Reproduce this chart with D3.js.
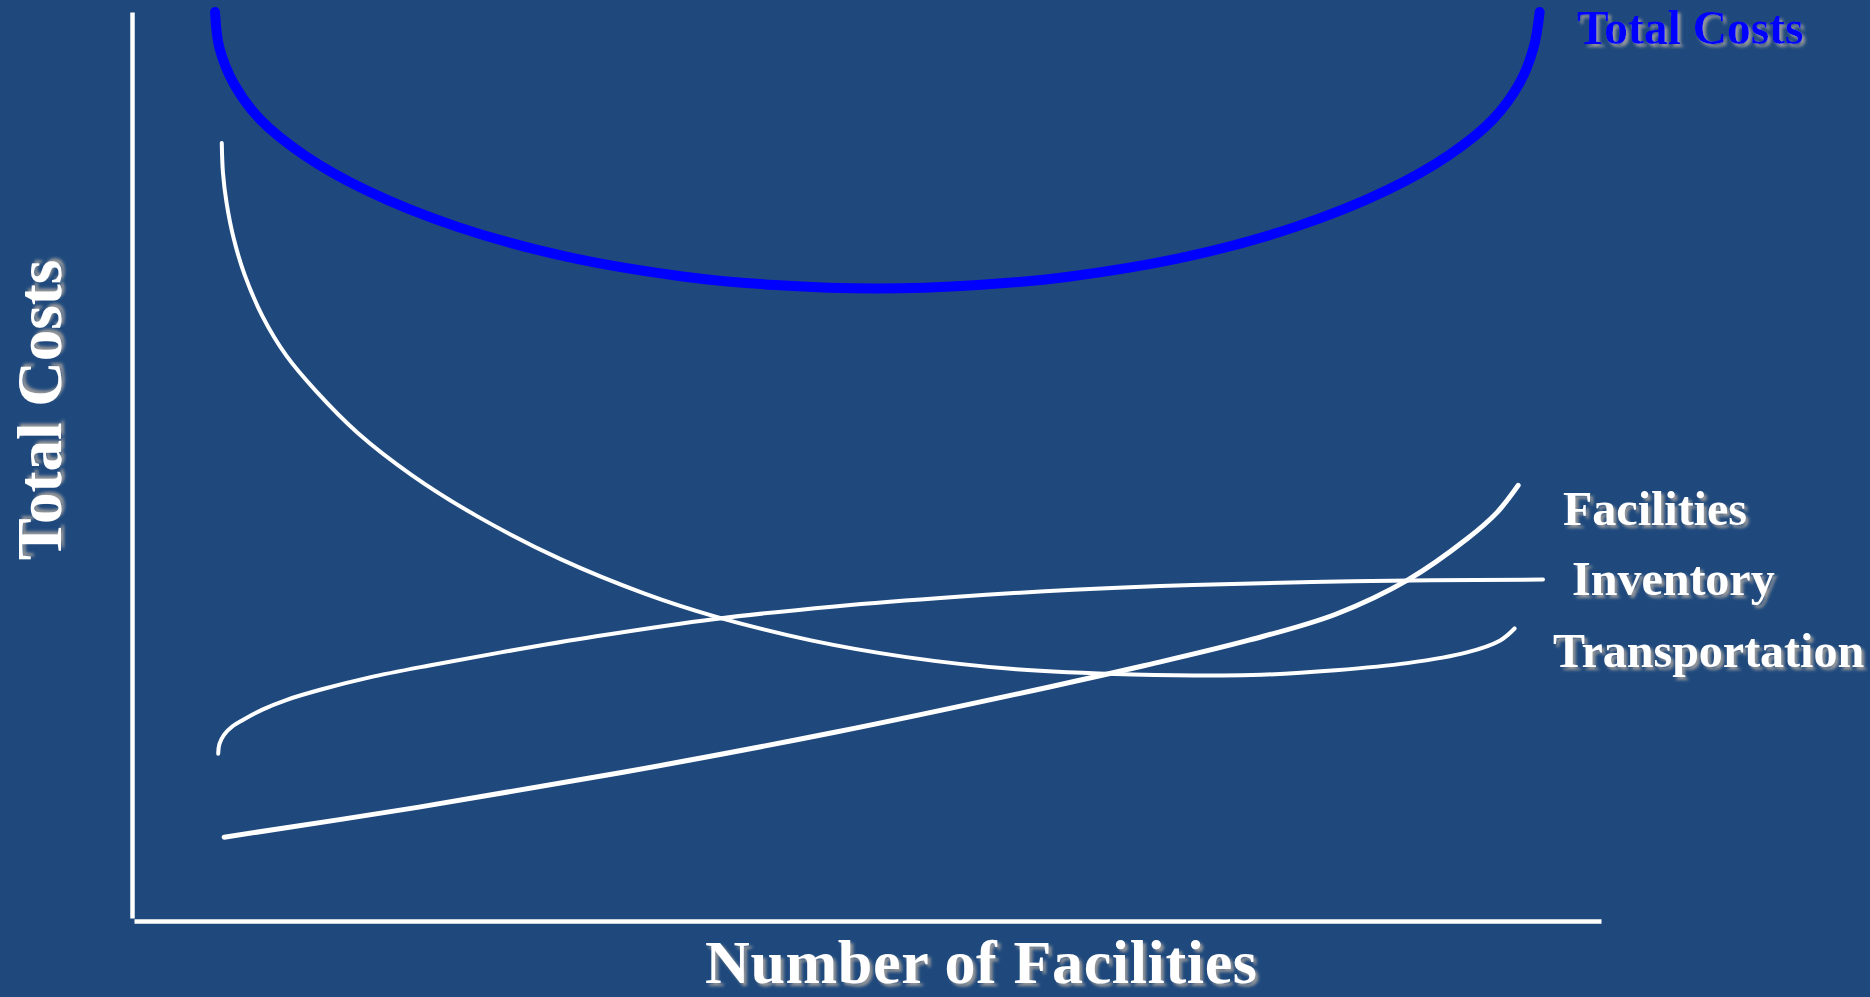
<!DOCTYPE html>
<html>
<head>
<meta charset="utf-8">
<script src="https://cdn.jsdelivr.net/npm/d3@7"></script>
<style>
  html, body { margin: 0; padding: 0; background: #1F497D; }
  svg { display: block; }
  text { font-family: "Liberation Serif", "Times New Roman", serif; font-weight: bold; }
</style>
</head>
<body>
<svg id="chart" width="1870" height="997"></svg>
<script>
// ---- data (x: relative number of facilities, y: relative cost) ----
const seriesNames = ["Total Costs", "Facilities", "Inventory", "Transportation"];

const totalX = [0, 0.33, 1.41, 3.39, 6.71, 11.47, 18.20, 26.38, 35.36, 42.18, 49.81, 57.45, 64.27, 73.25, 81.42, 88.16, 92.92, 96.24, 98.22, 99.29, 99.75];
const totalY = [100, 96.07, 92.14, 88.2, 84.26, 80.33, 76.39, 73.11, 70.88, 69.96, 69.57, 69.96, 70.88, 73.11, 76.39, 80.33, 84.26, 88.2, 92.14, 96.07, 100];

const facilitiesX = [0.69, 15.24, 30.51, 46.67, 62.83, 70.02, 77.92, 84.39, 89.86, 94.26, 96.51, 98.13];
const facilitiesY = [9.22, 12.50, 16.30, 20.76, 25.75, 28.11, 30.92, 33.75, 37.56, 42.02, 44.90, 47.92];

const inventoryX = [0.24, 0.33, 0.69, 1.32, 2.13, 3.57, 5.36, 8.06, 11.65, 16.14, 21.53, 28.71, 37.69, 46.67, 55.65, 64.63, 73.61, 82.59, 91.57, 100];
const inventoryY = [18.40, 19.45, 20.50, 21.42, 22.14, 23.26, 24.31, 25.49, 26.80, 28.11, 29.55, 31.32, 33.23, 34.61, 35.65, 36.44, 36.97, 37.29, 37.49, 37.56];

const transportX = [0.51, 0.60, 0.87, 1.41, 2.22, 3.57, 5.36, 7.61, 10.75, 14.79, 19.73, 26.02, 32.30, 37.69, 44.88, 52.06, 60.14, 69.12, 78.10, 84.39, 89.78, 94.27, 96.78, 97.86];
const transportY = [85.58, 82.30, 79.02, 75.08, 71.14, 66.55, 62.22, 58.29, 53.69, 49.09, 44.54, 39.81, 36.05, 33.49, 30.87, 29.03, 27.72, 27.13, 27.06, 27.59, 28.37, 29.55, 30.87, 32.18];

const xTitle = "Number of Facilities";
const yTitle = "Total Costs";

// ---- layout ----
const svg = d3.select("#chart");
const W = 1870, H = 997;
svg.append("rect").attr("width", W).attr("height", H).attr("fill", "#1F497D");

const x = d3.scaleLinear().domain([0, 100]).range([215, 1543]);
const y = d3.scaleLinear().domain([0, 100]).range([921, 12]);

// drop shadow filter for texts
const defs = svg.append("defs");
const f = defs.append("filter").attr("id", "shadow").attr("x", "-10%").attr("y", "-10%").attr("width", "130%").attr("height", "140%");
f.append("feDropShadow").attr("dx", 3).attr("dy", 3).attr("stdDeviation", 1.6)
  .attr("flood-color", "#9a9a9a").attr("flood-opacity", 0.95);

// axes (no ticks)
const xAxisScale = d3.scaleLinear().domain([x.invert(134), x.invert(1601)]).range([134, 1601]);
const yAxisScale = d3.scaleLinear().domain([y.invert(918), y.invert(12)]).range([918, 12]);

const gx = svg.append("g").attr("transform", "translate(0,921)")
  .call(d3.axisBottom(xAxisScale).tickValues([]).tickSizeOuter(0));
const gy = svg.append("g").attr("transform", "translate(132,0)")
  .call(d3.axisLeft(yAxisScale).tickValues([]).tickSizeOuter(0));
[gx, gy].forEach(g => g.select(".domain").attr("stroke", "#ffffff").attr("stroke-width", 4.5));

const line = d3.line().x(d => x(d[0])).y(d => y(d[1])).curve(d3.curveCatmullRom.alpha(0.5));
const zip = (a, b) => a.map((v, i) => [v, b[i]]);

const curves = [
  { xs: transportX, ys: transportY, color: "#ffffff", w: 4 },
  { xs: inventoryX, ys: inventoryY, color: "#ffffff", w: 4 },
  { xs: facilitiesX, ys: facilitiesY, color: "#ffffff", w: 5 },
  { xs: totalX, ys: totalY, color: "#0000ff", w: 10 }
];
svg.selectAll("path.curve").data(curves).join("path")
  .attr("class", "curve")
  .attr("d", d => line(zip(d.xs, d.ys)))
  .attr("fill", "none")
  .attr("stroke", d => d.color)
  .attr("stroke-width", d => d.w)
  .attr("stroke-linecap", "round")
  .attr("stroke-linejoin", "round");

// series labels
const labels = [
  { t: seriesNames[0], x: 1577, y: 44, fill: "#0000ff", s: 47.5 },
  { t: seriesNames[1], x: 1563, y: 525, fill: "#ffffff", s: 48 },
  { t: seriesNames[2], x: 1572, y: 595, fill: "#ffffff", s: 48 },
  { t: seriesNames[3], x: 1553, y: 667, fill: "#ffffff", s: 48 }
];
svg.selectAll("text.lbl").data(labels).join("text")
  .attr("class", "lbl")
  .attr("x", d => d.x).attr("y", d => d.y)
  .attr("fill", d => d.fill)
  .attr("font-size", d => d.s)
  .attr("filter", "url(#shadow)")
  .text(d => d.t);

// axis titles
svg.append("text").attr("x", 705).attr("y", 983)
  .attr("fill", "#ffffff").attr("font-size", 62).attr("filter", "url(#shadow)")
  .attr("textLength", 552)
  .text(xTitle);

svg.append("text").attr("transform", "translate(61,410) rotate(-90)")
  .attr("text-anchor", "middle")
  .attr("fill", "#ffffff").attr("font-size", 63).attr("filter", "url(#shadow)")
  .text(yTitle);
</script>
</body>
</html>
